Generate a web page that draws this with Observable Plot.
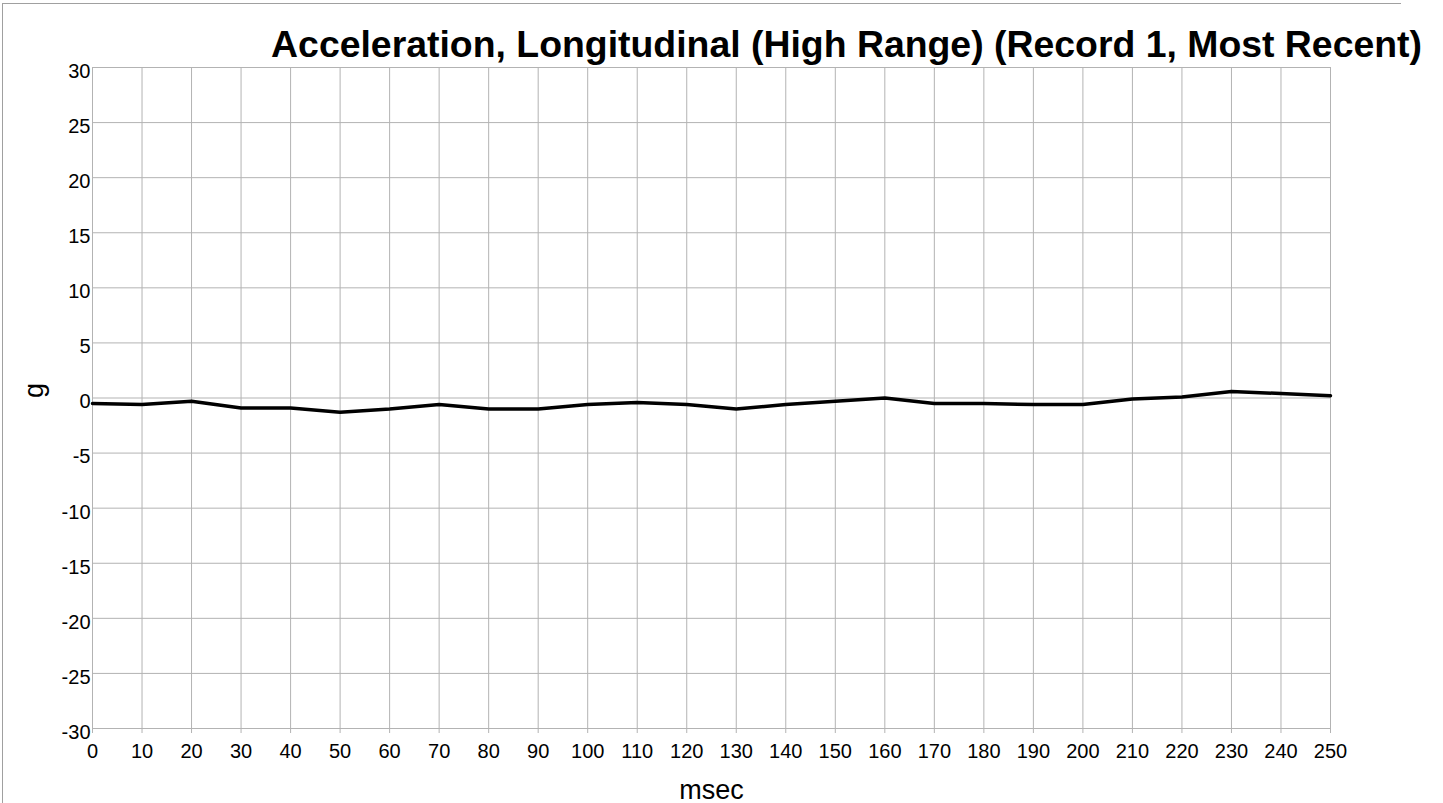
<!DOCTYPE html>
<html>
<head>
<meta charset="utf-8">
<script src="https://cdn.jsdelivr.net/npm/d3@7"></script>
<script src="https://cdn.jsdelivr.net/npm/@observablehq/plot@0.6"></script>
<style>
  html, body { margin: 0; padding: 0; background: #fff; overflow: hidden; }
  #wrap { position: relative; width: 1443px; height: 803px; font-family: "Liberation Sans", Arial, sans-serif; }
  #frame { position: absolute; left: 2px; top: 3px; width: 1398px; height: 900px; border-top: 1px solid #a0a0a0; border-left: 1px solid #a0a0a0; }
  #title { position: absolute; right: 21px; top: 23px; font-weight: bold; font-size: 37.4px; color: #000; white-space: nowrap; }
  #chart { position: absolute; left: 0; top: 0; }
</style>
</head>
<body>
<div id="wrap">
  <div id="frame"></div>
  <div id="chart"></div>
  <div id="title">Acceleration, Longitudinal (High Range) (Record 1, Most Recent)</div>
</div>
<script>
const msec = [0, 10, 20, 30, 40, 50, 60, 70, 80, 90, 100, 110, 120, 130, 140, 150, 160, 170, 180, 190, 200, 210, 220, 230, 240, 250];
const gValues = [-0.5, -0.6, -0.3, -0.9, -0.9, -1.3, -1.0, -0.6, -1.0, -1.0, -0.6, -0.4, -0.6, -1.0, -0.6, -0.3, 0.0, -0.5, -0.5, -0.6, -0.6, -0.1, 0.1, 0.6, 0.4, 0.2];
const xTicks = [0, 10, 20, 30, 40, 50, 60, 70, 80, 90, 100, 110, 120, 130, 140, 150, 160, 170, 180, 190, 200, 210, 220, 230, 240, 250];
const yTicks = [-30, -25, -20, -15, -10, -5, 0, 5, 10, 15, 20, 25, 30];

const data = msec.map((t, i) => ({t, g: gValues[i]}));
const fmt = d => String(d);

const chart = Plot.plot({
  width: 1443,
  height: 803,
  marginLeft: 92,
  marginRight: 113,
  marginTop: 67,
  marginBottom: 75,
  style: {fontFamily: '"Liberation Sans", Arial, sans-serif', background: "transparent", color: "#000"},
  x: {domain: [0, 250]},
  y: {domain: [-30, 30]},
  marks: [
    Plot.gridX(xTicks, {stroke: "#b3b3b3", strokeOpacity: 1, strokeWidth: 1}),
    Plot.gridY(yTicks, {stroke: "#b3b3b3", strokeOpacity: 1, strokeWidth: 1}),
    Plot.axisX(xTicks, {tickSize: 5, tickPadding: 10, stroke: "#b3b3b3", fontSize: 20, fill: "#000", label: null, tickFormat: fmt}),
    Plot.axisY(yTicks, {tickSize: 0, tickPadding: 2, fontSize: 20, fill: "#000", dy: 4, label: null, tickFormat: fmt}),
    Plot.line(data, {x: "t", y: "g", stroke: "#000", strokeWidth: 3.5, strokeLinejoin: "round"}),
    Plot.text(["msec"], {frameAnchor: "bottom", dy: 70, fontSize: 27, fill: "#000", lineAnchor: "bottom"}),
    Plot.text(["g"], {frameAnchor: "left", dx: -58, rotate: -90, fontSize: 27, fill: "#000"})
  ]
});
document.getElementById("chart").appendChild(chart);
</script>
</body>
</html>
